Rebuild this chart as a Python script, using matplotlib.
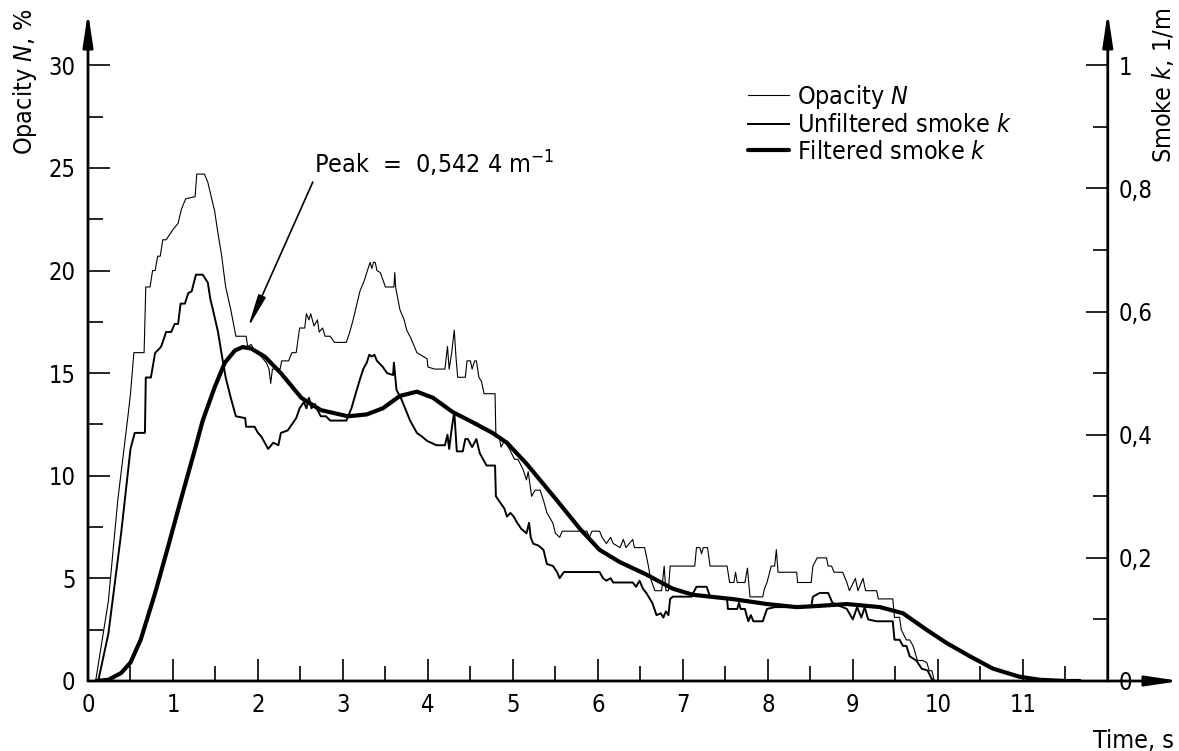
import numpy as np
import matplotlib
matplotlib.use("Agg")
import matplotlib.pyplot as plt

plt.rcParams['font.family'] = ['DejaVu Sans']
plt.rcParams['font.stretch'] = 'condensed'
plt.rcParams['mathtext.fontset'] = 'dejavusans'
FS = 18
TFS = 17

# --- Data ---
# Opacity N, % (left axis)
opacity_t = [0.09, 0.24, 0.35, 0.47, 0.50, 0.54, 0.66, 0.68, 0.73, 0.76, 0.79, 0.82, 0.85, 0.88,
             0.92, 1.00, 1.06, 1.10, 1.15, 1.26, 1.28, 1.37, 1.41, 1.45, 1.49, 1.53, 1.57, 1.62,
             1.68, 1.74, 1.86, 1.88, 1.92, 1.96, 2.04, 2.10, 2.13, 2.15, 2.17, 2.26, 2.28, 2.36,
             2.40, 2.45, 2.49, 2.55, 2.57, 2.60, 2.62, 2.66, 2.70, 2.72, 2.76, 2.79, 2.85, 2.90,
             3.04, 3.08, 3.12, 3.16, 3.20, 3.25, 3.28, 3.32, 3.34, 3.36, 3.38, 3.40, 3.44, 3.50,
             3.60, 3.61, 3.62, 3.67, 3.72, 3.75, 3.80, 3.87, 3.99, 4.00, 4.08, 4.20, 4.23, 4.25,
             4.28, 4.31, 4.33, 4.35, 4.44, 4.46, 4.50, 4.52, 4.55, 4.57, 4.60, 4.63, 4.66, 4.79,
             4.80, 4.84, 4.86, 4.90, 4.96, 5.02, 5.06, 5.12, 5.16, 5.18, 5.22, 5.26, 5.32, 5.36,
             5.40, 5.47, 5.50, 5.55, 5.58, 5.87, 5.90, 5.93, 6.02, 6.05, 6.10, 6.15, 6.18, 6.26,
             6.30, 6.33, 6.41, 6.43, 6.55, 6.59, 6.62, 6.67, 6.75, 6.78, 6.80, 6.83, 6.85, 6.96,
             7.14, 7.16, 7.20, 7.22, 7.24, 7.29, 7.32, 7.52, 7.55, 7.60, 7.62, 7.64, 7.73, 7.76,
             7.79, 7.94, 7.96, 7.99, 8.04, 8.08, 8.10, 8.12, 8.34, 8.35, 8.51, 8.53, 8.58, 8.69,
             8.71, 8.75, 8.78, 8.88, 8.93, 8.96, 9.03, 9.06, 9.12, 9.15, 9.28, 9.30, 9.47, 9.49,
             9.55, 9.57, 9.63, 9.67, 9.71, 9.76, 9.82, 9.87, 9.90, 9.93, 9.96]
opacity_n = [0.0, 3.9, 8.8, 12.9, 14.0, 16.0, 16.0, 19.2, 19.2, 20.0, 20.0, 20.7, 20.7, 21.5,
             21.5, 22.0, 22.3, 23.0, 23.5, 23.6, 24.7, 24.7, 24.3, 23.6, 22.9, 21.8, 20.8, 19.2,
             18.1, 16.8, 16.8, 16.3, 16.4, 16.1, 15.8, 15.5, 15.2, 14.5, 15.2, 15.2, 15.6, 15.6,
             16.0, 16.0, 17.2, 17.2, 17.9, 17.6, 17.9, 17.3, 17.6, 17.0, 17.2, 16.8, 16.8, 16.5,
             16.5, 17.0, 17.6, 18.3, 19.0, 19.5, 19.9, 20.4, 20.1, 20.4, 20.4, 20.0, 19.9, 19.2,
             19.2, 19.9, 19.2, 18.1, 17.6, 17.1, 16.7, 16.0, 15.7, 15.3, 15.2, 15.2, 16.3, 15.2,
             16.0, 17.1, 15.8, 14.8, 14.8, 15.6, 15.6, 15.2, 15.6, 15.6, 14.8, 14.6, 14.0, 14.0,
             11.9, 11.9, 11.4, 11.7, 11.3, 10.8, 10.8, 10.3, 9.8, 10.2, 9.0, 9.3, 9.3, 8.8,
             8.2, 7.7, 7.2, 7.0, 7.3, 7.3, 7.0, 7.3, 7.3, 7.0, 6.7, 7.0, 6.7, 6.5,
             6.9, 6.5, 6.9, 6.5, 6.5, 5.7, 5.0, 4.4, 4.4, 5.6, 4.4, 4.4, 5.6, 5.6,
             5.6, 6.5, 6.5, 6.2, 6.5, 6.5, 5.6, 5.6, 4.8, 4.8, 5.3, 4.8, 4.8, 5.5,
             4.1, 4.1, 4.5, 4.8, 5.6, 5.6, 6.4, 5.3, 5.3, 4.8, 4.8, 5.6, 6.0, 6.0,
             5.6, 5.6, 5.3, 5.3, 4.8, 4.4, 5.0, 4.4, 5.0, 4.4, 4.4, 4.0, 4.0, 3.1,
             3.1, 2.5, 2.0, 2.0, 1.7, 1.0, 1.0, 0.9, 0.5, 0.5, 0.0]

# Unfiltered smoke k, 1/m (right axis)
unfilt_t = [0.12, 0.24, 0.39, 0.50, 0.55, 0.67, 0.68, 0.74, 0.79, 0.82, 0.86, 0.92, 0.98, 1.02,
            1.06, 1.09, 1.14, 1.18, 1.22, 1.27, 1.35, 1.41, 1.44, 1.47, 1.53, 1.57, 1.62, 1.68,
            1.74, 1.85, 1.86, 1.96, 2.00, 2.04, 2.08, 2.12, 2.18, 2.24, 2.27, 2.35, 2.40, 2.45,
            2.49, 2.54, 2.57, 2.60, 2.63, 2.67, 2.70, 2.74, 2.80, 2.85, 3.04, 3.07, 3.10, 3.15,
            3.20, 3.24, 3.28, 3.31, 3.34, 3.37, 3.40, 3.47, 3.52, 3.59, 3.60, 3.62, 3.63, 3.69,
            3.74, 3.79, 3.87, 3.93, 3.99, 4.10, 4.20, 4.23, 4.25, 4.28, 4.31, 4.33, 4.34, 4.41,
            4.44, 4.47, 4.52, 4.57, 4.61, 4.65, 4.69, 4.79, 4.80, 4.85, 4.90, 4.93, 4.97, 5.01,
            5.05, 5.10, 5.16, 5.19, 5.21, 5.24, 5.30, 5.36, 5.40, 5.47, 5.52, 5.55, 5.60, 6.02,
            6.06, 6.10, 6.15, 6.18, 6.41, 6.45, 6.49, 6.53, 6.57, 6.64, 6.69, 6.74, 6.77, 6.80,
            6.83, 6.85, 6.88, 6.96, 7.10, 7.16, 7.28, 7.32, 7.52, 7.53, 7.64, 7.66, 7.68, 7.73,
            7.77, 7.80, 7.83, 7.94, 7.99, 8.08, 8.34, 8.51, 8.53, 8.61, 8.71, 8.76, 8.93, 9.00,
            9.05, 9.10, 9.14, 9.18, 9.28, 9.47, 9.49, 9.55, 9.59, 9.63, 9.67, 9.75, 9.81, 9.88,
            9.93, 9.95]
unfilt_k = [0.0, 0.077, 0.24, 0.377, 0.403, 0.403, 0.493, 0.493, 0.533, 0.537, 0.543, 0.567, 0.567, 0.58,
            0.58, 0.613, 0.613, 0.63, 0.633, 0.66, 0.66, 0.647, 0.62, 0.603, 0.567, 0.533, 0.493, 0.46,
            0.43, 0.427, 0.413, 0.413, 0.403, 0.397, 0.387, 0.377, 0.387, 0.383, 0.403, 0.407, 0.417, 0.427,
            0.443, 0.453, 0.443, 0.46, 0.443, 0.45, 0.44, 0.43, 0.43, 0.423, 0.423, 0.433, 0.443, 0.467,
            0.49, 0.507, 0.517, 0.53, 0.527, 0.53, 0.52, 0.51, 0.5, 0.497, 0.517, 0.487, 0.473, 0.457,
            0.44, 0.423, 0.403, 0.397, 0.39, 0.383, 0.383, 0.4, 0.377, 0.41, 0.437, 0.393, 0.373, 0.373,
            0.393, 0.393, 0.38, 0.393, 0.37, 0.36, 0.35, 0.35, 0.3, 0.29, 0.28, 0.267, 0.273, 0.267,
            0.257, 0.247, 0.24, 0.257, 0.233, 0.223, 0.22, 0.213, 0.19, 0.187, 0.177, 0.167, 0.177, 0.177,
            0.167, 0.163, 0.167, 0.16, 0.16, 0.153, 0.163, 0.15, 0.143, 0.127, 0.107, 0.11, 0.103, 0.113,
            0.107, 0.133, 0.137, 0.137, 0.137, 0.153, 0.153, 0.137, 0.133, 0.117, 0.117, 0.127, 0.117, 0.117,
            0.097, 0.107, 0.097, 0.097, 0.117, 0.12, 0.12, 0.12, 0.137, 0.143, 0.143, 0.127, 0.117, 0.1,
            0.12, 0.103, 0.12, 0.1, 0.097, 0.097, 0.067, 0.067, 0.057, 0.057, 0.04, 0.033, 0.02, 0.017,
            0.003, 0.0]

# Filtered smoke k, 1/m (right axis)
filt_t = [0.10, 0.24, 0.39, 0.50, 0.62, 0.79, 0.94, 1.09, 1.26, 1.35, 1.49, 1.61, 1.73, 1.82,
          1.92, 2.08, 2.27, 2.51, 2.74, 3.06, 3.28, 3.47, 3.67, 3.87, 4.06, 4.29, 4.53, 4.76,
          4.93, 5.16, 5.40, 5.52, 5.79, 6.02, 6.26, 6.57, 6.88, 7.12, 7.59, 7.99, 8.34, 8.60,
          8.93, 9.32, 9.59, 9.87, 10.10, 10.38, 10.65, 10.96, 11.20, 11.50, 11.67]
filt_k = [0.0, 0.002, 0.013, 0.03, 0.067, 0.143, 0.217, 0.293, 0.377, 0.423, 0.477, 0.517, 0.537, 0.5424,
          0.54, 0.527, 0.5, 0.46, 0.44, 0.43, 0.433, 0.443, 0.463, 0.47, 0.46, 0.437, 0.42, 0.403,
          0.387, 0.353, 0.313, 0.293, 0.247, 0.213, 0.193, 0.173, 0.15, 0.14, 0.133, 0.125, 0.12, 0.122,
          0.125, 0.12, 0.11, 0.083, 0.062, 0.04, 0.02, 0.007, 0.002, 0.0, 0.0]

x_major = list(range(0, 12))
n_major = [0, 5, 10, 15, 20, 25, 30]
k_major = [0, 0.2, 0.4, 0.6, 0.8, 1.0]
k_labels = ['0', '0,2', '0,4', '0,6', '0,8', '1']
peak_label = 'Peak  =  0,542 4 m$^{-1}$'

# --- Layout ---
XMAX = 12.85
NMAX = 32.6
fig = plt.figure(figsize=(11.79, 7.51), dpi=100)
ax = fig.add_axes([88 / 1179, 70 / 751, 1092 / 1179, 669 / 751])
ax.set_xlim(0, XMAX)
ax.set_ylim(0, NMAX)
ax2 = ax.twinx()
ax2.set_ylim(0, NMAX / 30)
ax2.spines['right'].set_position(('data', 12))

for a in (ax, ax2):
    for s in a.spines.values():
        s.set_visible(False)
    a.patch.set_visible(False)

tick_kw = dict(direction='in', labelsize=TFS, color='black')
ax.set_xticks(x_major)
ax.set_xticklabels([str(v) for v in x_major])
ax.set_xticks(np.arange(0.5, 12, 1.0), minor=True)
ax.set_yticks(n_major)
ax.set_yticks(np.arange(2.5, 30, 5.0), minor=True)
ax.tick_params(axis='both', which='major', length=16, width=1.2, **tick_kw)
ax.tick_params(axis='both', which='minor', length=11, width=1.2, direction='in')
ax.tick_params(axis='x', which='major', pad=9)
ax.tick_params(axis='y', which='major', pad=9)
ax.tick_params(top=False, right=False, which='both')

ax2.set_yticks(k_major)
ax2.set_yticklabels(k_labels)
ax2.set_yticks(np.arange(0.1, 1.0, 0.2), minor=True)
ax2.tick_params(axis='y', which='major', length=16, width=1.2, pad=8, **tick_kw)
ax2.tick_params(axis='y', which='minor', length=11, width=1.2, direction='in')

# axis lines with arrows
arrow_kw = dict(arrowstyle='-|>,head_length=1.0,head_width=0.15', lw=2, color='black',
                shrinkA=0, shrinkB=0, mutation_scale=20)
ax.annotate('', xy=(0, NMAX), xytext=(0, 0), arrowprops=arrow_kw, annotation_clip=False)
ax.annotate('', xy=(12, NMAX), xytext=(12, 0), arrowprops=arrow_kw, annotation_clip=False)
ax.annotate('', xy=(XMAX, 0), xytext=(0, 0), arrowprops=arrow_kw, annotation_clip=False)

# --- Series ---
l1, = ax.plot(opacity_t, opacity_n, color='black', lw=0.8, label='Opacity $N$')
l2, = ax2.plot(unfilt_t, unfilt_k, color='black', lw=1.4, label='Unfiltered smoke $k$')
l3, = ax2.plot(filt_t, filt_k, color='black', lw=3.0, label='Filtered smoke $k$',
               solid_capstyle='round')

ax2.annotate(peak_label, xy=(1.88, 17.2 / 30), xytext=(2.66, 24.45 / 30),
             fontsize=FS, ha='left', va='bottom',
             arrowprops=dict(arrowstyle='-|>,head_length=1.0,head_width=0.12', lw=1.2,
                             color='black', shrinkA=0, shrinkB=0, mutation_scale=20,
                             relpos=(0, 0)))

leg = ax2.legend(handles=[l1, l2, l3], loc='upper left', frameon=False, fontsize=FS,
                 bbox_to_anchor=(748 / 1179, 1 - 83 / 751), bbox_transform=fig.transFigure,
                 borderpad=0, borderaxespad=0, handlelength=1.65, handletextpad=0.3,
                 labelspacing=0.1)

fig.text(25 / 1179, 1 - 8 / 751, 'Opacity $N$, %', rotation=90, ha='center', va='top',
         fontsize=FS)
fig.text(1163 / 1179, 1 - 8 / 751, 'Smoke $k$, 1/m', rotation=90, ha='center', va='top',
         fontsize=FS)
fig.text(1174 / 1179, 1 - 741 / 751, 'Time, s', ha='right', va='center', fontsize=FS)

fig.savefig('out.png', dpi=100)
